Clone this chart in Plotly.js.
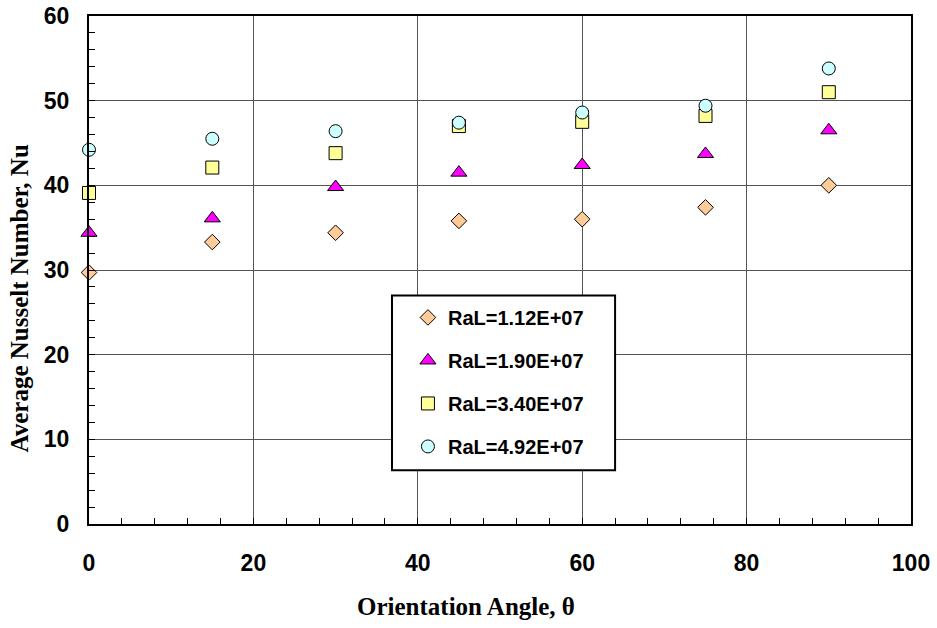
<!DOCTYPE html>
<html>
<head>
<meta charset="utf-8">
<script src="https://cdn.plot.ly/plotly-3.0.1.min.js"></script>
<style>html,body{margin:0;padding:0;background:#fff;}#chart{width:937px;height:628px;}</style>
</head>
<body>
<div id="chart"></div>
<script>
// Data
const angles = [0, 15, 30, 45, 60, 75, 90];
const nu_112 = [29.7, 33.3, 34.4, 35.8, 36.0, 37.4, 40.0];
const nu_190 = [34.4, 36.1, 39.8, 41.5, 42.4, 43.7, 46.5];
const nu_340 = [39.1, 42.1, 43.8, 47.0, 47.5, 48.2, 51.0];
const nu_492 = [44.2, 45.5, 46.4, 47.4, 48.6, 49.4, 53.8];
const seriesNames = ['RaL=1.12E+07', 'RaL=1.90E+07', 'RaL=3.40E+07', 'RaL=4.92E+07'];
const xTitle = 'Orientation Angle, θ';
const yTitle = 'Average Nusselt Number, Nu';

const seriesY = [nu_112, nu_190, nu_340, nu_492];
const symbols = ['diamond', 'triangle-up', 'square', 'circle'];
const fills = ['#FFCC99', '#FF00FF', '#FFFF99', '#CCFFFF'];
const sizes = [12, 14, 13, 13];

const traces = seriesY.map((y, i) => ({
  type: 'scatter', mode: 'markers', x: angles, y: y, name: seriesNames[i],
  legendgroup: 'g' + i,
  marker: {symbol: symbols[i], size: sizes[i], color: fills[i], line: {color: '#000', width: 1}},
  cliponaxis: false
}));

const tickFont = {family: 'Liberation Sans, Arial, sans-serif', size: 23, color: '#000', weight: 'bold'};
const titleFont = {family: 'Liberation Serif, Times New Roman, serif', size: 25, color: '#000', weight: 'bold'};

const layout = {
  width: 937, height: 628,
  margin: {l: 89, r: 26, t: 16, b: 104},
  paper_bgcolor: '#fff', plot_bgcolor: '#fff',
  showlegend: true,
  xaxis: {
    range: [0, 100], dtick: 20, tick0: 0,
    showline: true, linecolor: '#000', linewidth: 2, mirror: true,
    showgrid: true, gridcolor: '#555', gridwidth: 1,
    zeroline: false,
    ticks: 'inside', ticklen: 6, tickcolor: '#000', tickwidth: 1,
    minor: {dtick: 4, ticks: 'inside', ticklen: 6, tickcolor: '#000', tickwidth: 1, showgrid: false},
    tickfont: tickFont, ticklabelstandoff: 17,
    automargin: false
  },
  yaxis: {
    range: [0, 60], dtick: 10, tick0: 0,
    showline: true, linecolor: '#000', linewidth: 2, mirror: true,
    showgrid: true, gridcolor: '#555', gridwidth: 1,
    zeroline: false,
    ticks: 'inside', ticklen: 6, tickcolor: '#000', tickwidth: 1,
    minor: {dtick: 2, ticks: 'inside', ticklen: 6, tickcolor: '#000', tickwidth: 1, showgrid: false},
    tickfont: tickFont, ticklabelstandoff: 13,
    automargin: false
  },
  annotations: [
    {text: xTitle, xref: 'paper', yref: 'paper', x: 0.4588, y: -0.163, xanchor: 'center', yanchor: 'middle',
     showarrow: false, font: titleFont},
    {text: yTitle, xref: 'paper', yref: 'paper', x: -0.0845, y: 0.443, xanchor: 'center', yanchor: 'middle',
     textangle: -90, showarrow: false, font: titleFont}
  ],
  legend: {
    x: 0.388, y: 0.445, xanchor: 'left', yanchor: 'top',
    bgcolor: 'rgba(0,0,0,0)', borderwidth: 0,
    font: {family: 'Liberation Sans, Arial, sans-serif', size: 20, color: '#000', weight: 'bold'},
    traceorder: 'grouped', tracegroupgap: 14
  },
  shapes: [{
    type: 'rect', xref: 'paper', yref: 'paper',
    x0: 0.3686, x1: 0.640, y0: 0.106, y1: 0.450,
    line: {color: '#000', width: 2}, fillcolor: '#fff', layer: 'above'
  }]
};

Plotly.newPlot('chart', traces, layout, {displayModeBar: false, staticPlot: true});
</script>
</body>
</html>
